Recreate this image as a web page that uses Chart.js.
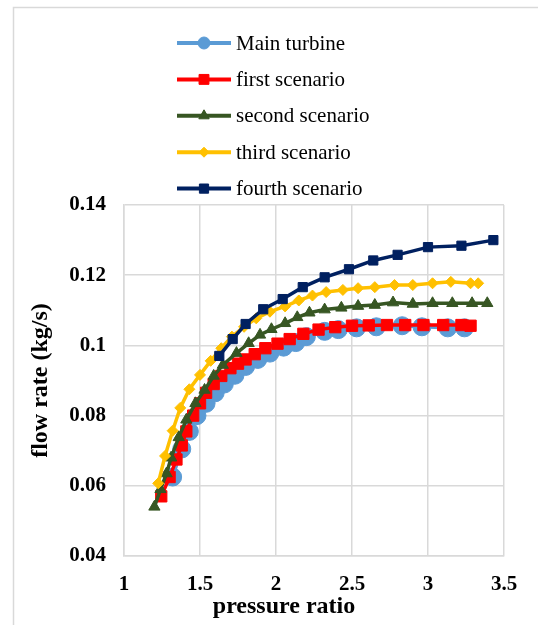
<!DOCTYPE html>
<html>
<head>
<meta charset="utf-8">
<script src="https://cdn.jsdelivr.net/npm/chart.js@4.4.1/dist/chart.umd.min.js"></script>
<style>
    body { margin: 0; background: #fff; }
    canvas { display: block; }
</style>
</head>
<body>
<canvas id="flowChart" width="538" height="625"></canvas>
<script>
//==========Data===========
const seriesNames = ['Main turbine', 'first scenario', 'second scenario', 'third scenario', 'fourth scenario'];

const mainX = [1.32, 1.38, 1.43, 1.48, 1.54, 1.60, 1.66, 1.73, 1.80, 1.88, 1.96, 2.05, 2.13, 2.20, 2.32, 2.41, 2.53, 2.66, 2.83, 2.96, 3.13, 3.24];
const mainY = [0.0625, 0.0705, 0.0755, 0.0800, 0.0835, 0.0865, 0.0890, 0.0915, 0.0940, 0.0960, 0.0978, 0.0995, 0.1008, 0.1025, 0.1040, 0.1045, 0.1050, 0.1053, 0.1056, 0.1053, 0.1050, 0.1050];

const firstX = [1.245, 1.30, 1.345, 1.38, 1.41, 1.455, 1.50, 1.54, 1.59, 1.64, 1.70, 1.75, 1.80, 1.86, 1.93, 2.01, 2.09, 2.18, 2.28, 2.39, 2.50, 2.61, 2.73, 2.85, 2.97, 3.10, 3.22, 3.28];
const firstY = [0.0570, 0.0625, 0.0675, 0.0715, 0.0755, 0.0800, 0.0835, 0.0865, 0.0890, 0.0913, 0.0935, 0.0948, 0.0960, 0.0975, 0.0992, 0.1005, 0.1018, 0.1033, 0.1045, 0.1052, 0.1056, 0.1057, 0.1058, 0.1058, 0.1058, 0.1058, 0.1058, 0.1056];

const secondX = [1.20, 1.24, 1.28, 1.31, 1.36, 1.41, 1.47, 1.53, 1.59, 1.65, 1.74, 1.82, 1.895, 1.97, 2.06, 2.14, 2.22, 2.32, 2.43, 2.54, 2.65, 2.77, 2.90, 3.03, 3.16, 3.29, 3.39];
const secondY = [0.0540, 0.0590, 0.0635, 0.0680, 0.0738, 0.0788, 0.0835, 0.0873, 0.0913, 0.0944, 0.0978, 0.1006, 0.1030, 0.1046, 0.1063, 0.1080, 0.1093, 0.1102, 0.1107, 0.1112, 0.1115, 0.1122, 0.1118, 0.1120, 0.1120, 0.1120, 0.1120];

const thirdX = [1.225, 1.27, 1.32, 1.37, 1.43, 1.50, 1.57, 1.64, 1.71, 1.79, 1.87, 1.96, 2.06, 2.15, 2.24, 2.33, 2.44, 2.54, 2.65, 2.78, 2.90, 3.03, 3.15, 3.28, 3.33];
const thirdY = [0.0607, 0.0685, 0.0757, 0.0822, 0.0875, 0.0916, 0.0956, 0.0992, 0.1025, 0.1053, 0.1077, 0.1096, 0.1111, 0.1128, 0.1142, 0.1152, 0.1158, 0.1163, 0.1166, 0.1172, 0.1172, 0.1177, 0.1181, 0.1177, 0.1177];

const fourthX = [1.627, 1.715, 1.80, 1.916, 2.044, 2.176, 2.32, 2.48, 2.64, 2.80, 3.00, 3.22, 3.43];
const fourthY = [0.0970, 0.1018, 0.1061, 0.1103, 0.1132, 0.1166, 0.1194, 0.1217, 0.1242, 0.1258, 0.1280, 0.1284, 0.1300];

const xTicks = [1, 1.5, 2, 2.5, 3, 3.5];
const yTicks = [0.04, 0.06, 0.08, 0.1, 0.12, 0.14];

//==========Helpers===========
function toPoints(xs, ys) {
    return xs.map(function (x, i) { return { x: x, y: ys[i] }; });
}

function makeSeries(i, xs, ys, color, style, radius, legendRadius) {
    return {
        label: seriesNames[i],
        data: toPoints(xs, ys),
        borderColor: color,
        backgroundColor: color,
        pointBackgroundColor: color,
        pointBorderColor: color,
        borderWidth: 3.5,
        pointStyle: style,
        pointRadius: radius,
        pointBorderWidth: 1,
        legendRadius: legendRadius,
        tension: 0,
        order: 5 - i
    };
}

const serif = 'Liberation Serif, "Times New Roman", serif';

//==========Extra drawing (frame, legend, axis titles)===========
const extraText = {
    id: 'extraText',
    beforeDraw: function (chart) {
        const ctx = chart.ctx;
        ctx.save();
        ctx.strokeStyle = '#d9d9d9';
        ctx.lineWidth = 1.5;
        ctx.strokeRect(13.5, 7.5, 700, 800);
        ctx.restore();
    },
    afterDraw: function (chart) {
        const ctx = chart.ctx;
        ctx.save();
        chart.data.datasets.forEach(function (ds, i) {
            const y = 43 + i * 36.4;
            ctx.strokeStyle = ds.borderColor;
            ctx.lineWidth = 4;
            ctx.beginPath();
            ctx.moveTo(177, y);
            ctx.lineTo(231, y);
            ctx.stroke();
            ctx.fillStyle = ds.pointBackgroundColor;
            ctx.strokeStyle = ds.pointBorderColor;
            ctx.lineWidth = 1;
            Chart.helpers.drawPoint(ctx, { pointStyle: ds.pointStyle, radius: ds.legendRadius, rotation: 0, borderWidth: 1 }, 204, y);
            ctx.fillStyle = '#000';
            ctx.font = '21px ' + serif;
            ctx.textAlign = 'left';
            ctx.textBaseline = 'middle';
            ctx.fillText(ds.label, 236, y + 1);
        });

        ctx.fillStyle = '#000';
        ctx.font = 'bold 24px ' + serif;
        ctx.textAlign = 'center';
        ctx.textBaseline = 'middle';
        ctx.fillText('pressure ratio', 284, 607);

        ctx.translate(41, (chart.chartArea.top + chart.chartArea.bottom) / 2);
        ctx.rotate(-Math.PI / 2);
        ctx.fillText('flow rate (kg/s)', 0, 0);
        ctx.restore();
    }
};

//==========Chart===========
const ctx = document.getElementById('flowChart');
new Chart(ctx, {
    type: 'line',
    data: {
        datasets: [
            makeSeries(0, mainX, mainY, '#5B9BD5', 'circle', 9, 6),
            makeSeries(1, firstX, firstY, '#FF0000', 'rect', 8, 7),
            makeSeries(2, secondX, secondY, '#375623', 'triangle', 6.5, 6),
            makeSeries(3, thirdX, thirdY, '#FFC000', 'rectRot', 5.5, 5),
            makeSeries(4, fourthX, fourthY, '#002060', 'rect', 6.5, 6.5)
        ]
    },
    options: {
        responsive: false,
        animation: false,
        layout: { padding: { top: 205, right: 34, bottom: 0, left: 0 } },
        plugins: {
            legend: { display: false },
            tooltip: { enabled: false }
        },
        scales: {
            x: {
                type: 'linear',
                min: xTicks[0],
                max: xTicks[xTicks.length - 1],
                afterBuildTicks: function (scale) {
                    scale.ticks = xTicks.map(function (v) { return { value: v }; });
                },
                afterFit: function (scale) { scale.height = 69; },
                ticks: {
                    color: '#000',
                    padding: 16,
                    maxRotation: 0,
                    font: { family: serif, size: 21, weight: 'bold' },
                    callback: function (v) { return String(+v.toFixed(2)); }
                },
                grid: { color: '#d9d9d9', lineWidth: 1.5, drawTicks: false },
                border: { color: '#d9d9d9', width: 1.5 }
            },
            y: {
                type: 'linear',
                min: yTicks[0],
                max: yTicks[yTicks.length - 1],
                afterBuildTicks: function (scale) {
                    scale.ticks = yTicks.map(function (v) { return { value: v }; });
                },
                afterFit: function (scale) { scale.width = 124; },
                ticks: {
                    color: '#000',
                    padding: 18,
                    font: { family: serif, size: 21, weight: 'bold' },
                    callback: function (v) { return String(+v.toFixed(2)); }
                },
                grid: { color: '#d9d9d9', lineWidth: 1.5, drawTicks: false },
                border: { color: '#d9d9d9', width: 1.5 }
            }
        }
    },
    plugins: [extraText]
});
</script>
</body>
</html>
